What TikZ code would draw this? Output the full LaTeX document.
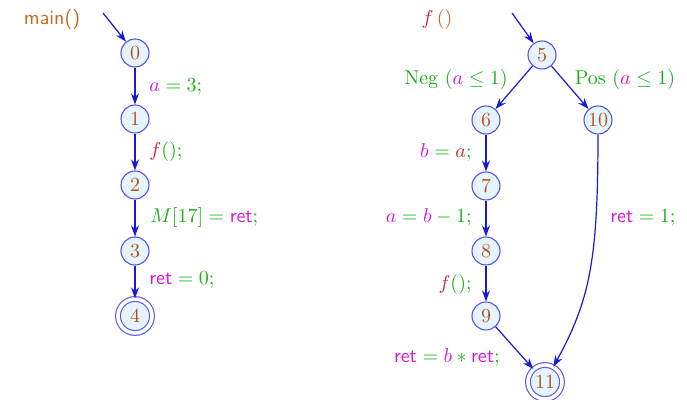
\documentclass[tikz,border=0pt]{standalone}
\usetikzlibrary{arrows.meta}
\definecolor{cgreen}{RGB}{25,175,25}
\definecolor{cmag}{RGB}{215,20,215}
\definecolor{cred}{RGB}{195,40,55}
\definecolor{corange}{RGB}{175,85,20}
\definecolor{cmain}{RGB}{195,105,30}
\definecolor{cfill}{RGB}{230,244,255}
\definecolor{cdraw}{RGB}{85,85,235}
\definecolor{carrow}{RGB}{25,25,215}
\newcommand{\G}[1]{\textcolor{cgreen}{#1}}
\newcommand{\M}[1]{\textcolor{cmag}{#1}}
\newcommand{\R}[1]{\textcolor{cred}{#1}}
\newcommand{\rt}{\M{\mathsf{ret}}}
\begin{document}
\begin{tikzpicture}[x=0.5pt,y=-0.5pt,
  st/.style={circle,draw=cdraw,fill=cfill,text=corange,minimum size=14pt,inner sep=0.5pt,line width=0.55pt},
  fin/.style={st,minimum size=17pt,double=white,double distance=1.8pt},
  edge/.style={draw=carrow,line width=0.6pt,-{Stealth[length=5.5pt,width=4pt]}},
  lbl/.style={inner sep=1pt}]
\useasboundingbox (0,0) rectangle (687,400);
% left graph
\node[text=cmain,font=\sffamily] (mainlbl) at (52,20) {main()};
\coordinate (e0) at (103,13);
\node[st] (n0) at (135,53) {0};
\node[st] (n1) at (135,119) {1};
\node[st] (n2) at (135,185) {2};
\node[st] (n3) at (135,251) {3};
\node[fin] (n4) at (135,316) {4};
\draw[edge] (e0) -- (n0);
\draw[edge] (n0) -- (n1);
\draw[edge] (n1) -- (n2);
\draw[edge] (n2) -- (n3);
\draw[edge] (n3) -- (n4);
\node[lbl,anchor=west] (l01) at (147,87) {$\M{a}\G{{}=3;}$};
\node[lbl,anchor=west] (l12) at (147,152) {$\R{f}\G{();}$};
\node[lbl,anchor=west] (l23) at (148,218) {$\G{M[17]={}}\rt\G{;}$};
\node[lbl,anchor=west] (l34) at (147,280) {$\rt\G{{}=0;}$};
% right graph
\node (flbl) at (437,20) {$\R{f}\,\textcolor{cmain}{()}$};
\coordinate (e5) at (512,13);
\node[st] (n5) at (542,55) {5};
\node[st] (n6) at (486,120) {6};
\node[st] (n10) at (598,120) {10};
\node[st] (n7) at (486,186) {7};
\node[st] (n8) at (486,251) {8};
\node[st] (n9) at (486,316) {9};
\node[fin] (n11) at (545,382) {11};
\draw[edge] (e5) -- (n5);
\draw[edge] (n5) -- (n6);
\draw[edge] (n5) -- (n10);
\draw[edge] (n6) -- (n7);
\draw[edge] (n7) -- (n8);
\draw[edge] (n8) -- (n9);
\draw[edge] (n9) -- (n11);
\draw[edge] (n10) .. controls (598,260) and (590,300) .. (n11);
\node[lbl] (lneg) at (456,80) {\G{Neg} $\G{(}\M{a}\G{{}\le 1)}$};
\node[lbl] (lpos) at (625,80) {\G{Pos} $\G{(}\M{a}\G{{}\le 1)}$};
\node[lbl,anchor=east] (l67) at (474,153) {$\M{b}\G{{}={}}\R{a}\G{;}$};
\node[lbl,anchor=east] (l78) at (474,218) {$\M{a}\G{{}={}}\M{b}\G{{}-1;}$};
\node[lbl,anchor=east] (l89) at (474,285) {$\R{f}\G{();}$};
\node[lbl,anchor=east] (l911) at (502,358) {$\rt\G{{}={}}\M{b}\G{{}\ast{}}\rt\G{;}$};
\node[lbl,anchor=west] (l1011) at (608,218) {$\rt\G{{}=1;}$};
\end{tikzpicture}
\end{document}
